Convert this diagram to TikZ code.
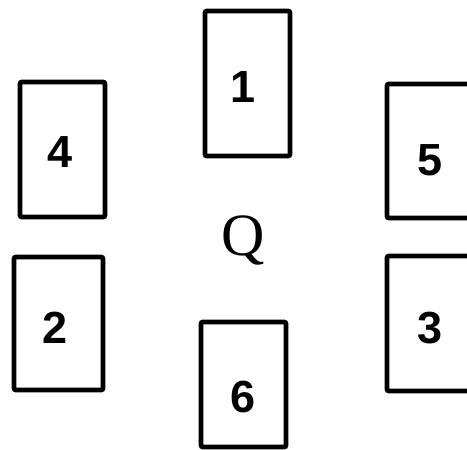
\documentclass[tikz,border=0pt]{standalone}
\usepackage{fontspec}
\newfontfamily\digitfont{Liberation Sans}
\newfontfamily\qfont{Liberation Serif}
\begin{document}
\begin{tikzpicture}[x=1pt,y=-1pt,
  box/.style={draw=black, line width=4.8pt, rounded corners=2pt, inner sep=0pt, rectangle},
  num/.style={font=\digitfont\bfseries\fontsize{45}{50}\selectfont, inner sep=0pt, anchor=center},
  qlabel/.style={font=\qfont\fontsize{60}{64}\selectfont, inner sep=0pt, anchor=base}]
  \useasboundingbox (0,0) rectangle (467,450);
  \clip (0,0) rectangle (467,450);
  % boxes
  \node[box, minimum width=85pt, minimum height=145pt] (b1) at (247.5,83.5) {};
  \node[box, minimum width=85pt, minimum height=135pt] (b4) at (62.5,149.5) {};
  \node[box, minimum width=85pt, minimum height=134pt] (b5) at (429.5,151) {};
  \node[box, minimum width=89pt, minimum height=133pt] (b2) at (58.5,323.5) {};
  \node[box, minimum width=85pt, minimum height=135pt] (b3) at (429.5,323.5) {};
  \node[box, minimum width=85pt, minimum height=125pt] (b6) at (243.5,384.5) {};
  % labels
  \node[num] (l1) at (243,87) {1};
  \node[num] (l4) at (60,152) {4};
  \node[num] (l5) at (430,160) {5};
  \node[num] (l2) at (55,328) {2};
  \node[num] (l3) at (430,328) {3};
  \node[num] (l6) at (243,397) {6};
  \node[qlabel] (q) at (243,255) {Q};
\end{tikzpicture}
\end{document}
